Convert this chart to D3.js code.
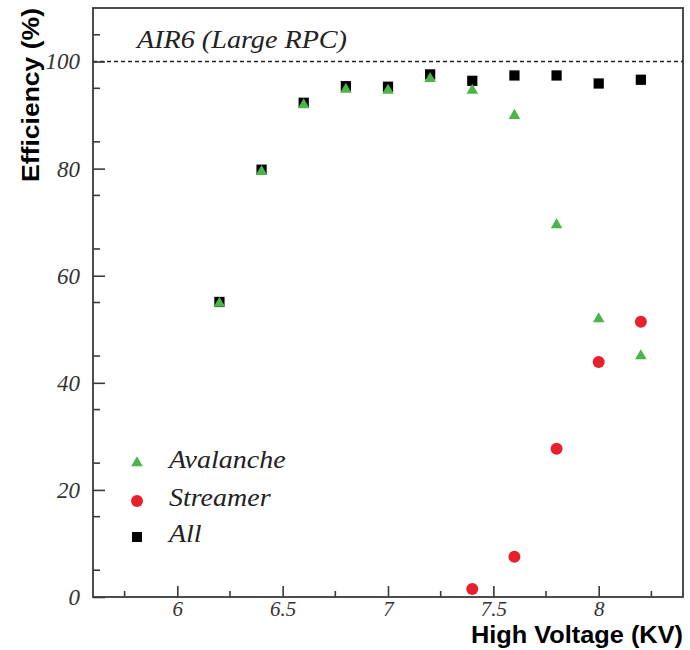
<!DOCTYPE html>
<html>
<head>
<meta charset="utf-8">
<script src="https://cdn.jsdelivr.net/npm/d3@7"></script>
<style>
  body { margin: 0; background: #fff; }
</style>
</head>
<body>
<svg id="chart" width="690" height="650"></svg>
<script>
var svg = d3.select("#chart"),
    width = +svg.attr("width"),
    height = +svg.attr("height");

// data
var voltages = [6.2, 6.4, 6.6, 6.8, 7.0, 7.2, 7.4, 7.6, 7.8, 8.0, 8.2];
var allEff = [55.1, 79.8, 92.3, 95.4, 95.3, 97.6, 96.4, 97.4, 97.4, 95.9, 96.6];
var avalancheEff = [55.0, 79.6, 92.1, 95.0, 94.8, 97.0, 94.8, 90.1, 69.7, 52.1, 45.2];
var streamerV = [7.4, 7.6, 7.8, 8.0, 8.2];
var streamerEff = [1.5, 7.5, 27.7, 43.9, 51.4];
var xTicks = [6, 6.5, 7, 7.5, 8];
var yTicks = [0, 20, 40, 60, 80, 100];
var legendLabels = ["Avalanche", "Streamer", "All"];

var margin = {top: 8, right: 7, bottom: 53, left: 93};

var x = d3.scaleLinear().domain([5.6, 8.4]).range([margin.left, width - margin.right]);
var y = d3.scaleLinear().domain([0, 110]).range([height - margin.bottom, margin.top]);

var green = "#4cb548", red = "#e8202c", axisCol = "#3a3a3a";
var serif = "Liberation Serif, Times New Roman, serif";
var sans = "Liberation Sans, Arial, sans-serif";

// frame
svg.append("rect")
  .attr("x", margin.left).attr("y", margin.top)
  .attr("width", width - margin.left - margin.right)
  .attr("height", height - margin.top - margin.bottom)
  .attr("fill", "none").attr("stroke", axisCol).attr("stroke-width", 1.8);

// 100% reference line
svg.append("line")
  .attr("x1", x(5.6)).attr("x2", x(8.4))
  .attr("y1", y(100)).attr("y2", y(100))
  .attr("stroke", "#222").attr("stroke-width", 1.5)
  .attr("stroke-dasharray", "4,3");

// minor ticks
var xMinor = [5.75, 6.25, 6.75, 7.25, 7.75, 8.25];
var yMinor = d3.range(5, 110, 10);

svg.append("g").selectAll("line").data(xMinor).enter().append("line")
  .attr("x1", d => x(d)).attr("x2", d => x(d))
  .attr("y1", y(0)).attr("y2", y(0) - 6)
  .attr("stroke", axisCol).attr("stroke-width", 1.6);

svg.append("g").selectAll("line").data(yMinor).enter().append("line")
  .attr("x1", x(5.6)).attr("x2", x(5.6) + 7)
  .attr("y1", d => y(d)).attr("y2", d => y(d))
  .attr("stroke", axisCol).attr("stroke-width", 1.6);

// axes (major ticks drawn inward)
var xAxis = svg.append("g")
  .attr("transform", "translate(0," + y(0) + ")")
  .call(d3.axisBottom(x).tickValues(xTicks).tickSizeInner(-11).tickSizeOuter(0).tickPadding(4)
    .tickFormat(d3.format("")));
xAxis.select(".domain").remove();

var yAxis = svg.append("g")
  .attr("transform", "translate(" + x(5.6) + ",0)")
  .call(d3.axisLeft(y).tickValues(yTicks).tickSizeInner(-12).tickSizeOuter(0).tickPadding(13));
yAxis.select(".domain").remove();

[xAxis, yAxis].forEach(function(g){
  g.selectAll(".tick line").attr("stroke", axisCol).attr("stroke-width", 1.6);
  g.selectAll(".tick text")
    .attr("font-family", serif).attr("font-style", "italic")
    .attr("font-size", g === xAxis ? 21 : 23).attr("fill", "#333");
});

// axis titles
svg.append("text")
  .attr("x", width - 7).attr("y", 643)
  .attr("text-anchor", "end")
  .attr("font-family", sans)
  .attr("font-weight", "bold").attr("font-size", 24)
  .attr("textLength", 212).attr("lengthAdjust", "spacingAndGlyphs")
  .text("High Voltage (KV)");

svg.append("text")
  .attr("transform", "translate(39,8) rotate(-90)")
  .attr("text-anchor", "end")
  .attr("font-family", sans)
  .attr("font-weight", "bold").attr("font-size", 24)
  .attr("textLength", 174).attr("lengthAdjust", "spacingAndGlyphs")
  .text("Efficiency (%)");

// plot label
svg.append("text")
  .attr("x", 137).attr("y", 48)
  .attr("font-family", serif)
  .attr("font-style", "italic").attr("font-size", 25)
  .attr("textLength", 210).attr("lengthAdjust", "spacingAndGlyphs")
  .attr("fill", "#222")
  .text("AIR6 (Large RPC)");

var sq = d3.symbol().type(d3.symbolSquare).size(105);
var tri = d3.symbol().type(d3.symbolTriangle).size(58);

// All
svg.append("g").selectAll("path").data(voltages).enter().append("path")
  .attr("d", sq)
  .attr("transform", (d, i) => "translate(" + x(d) + "," + y(allEff[i]) + ")")
  .attr("fill", "#000");

// Avalanche
svg.append("g").selectAll("path").data(voltages).enter().append("path")
  .attr("d", tri)
  .attr("transform", (d, i) => "translate(" + x(d) + "," + (y(avalancheEff[i]) + 1) + ")")
  .attr("fill", green);

// Streamer
svg.append("g").selectAll("circle").data(streamerV).enter().append("circle")
  .attr("cx", d => x(d)).attr("cy", (d, i) => y(streamerEff[i]))
  .attr("r", 6)
  .attr("fill", red);

// legend
var legendY = [463, 501, 537];
var legend = svg.append("g");
legend.append("path").attr("d", tri).attr("transform", "translate(137," + legendY[0] + ")").attr("fill", green);
legend.append("circle").attr("cx", 137).attr("cy", legendY[1]).attr("r", 6).attr("fill", red);
legend.append("path").attr("d", d3.symbol().type(d3.symbolSquare).size(100)).attr("transform", "translate(137," + legendY[2] + ")").attr("fill", "#000");

legend.selectAll("text").data(legendLabels).enter().append("text")
  .attr("transform", (d, i) => "translate(169," + (legendY[i] + 5) + ") scale(1.12,1)")
  .attr("font-family", serif)
  .attr("font-style", "italic").attr("font-size", 25)
  .attr("fill", "#222")
  .text(d => d);
</script>
</body>
</html>
